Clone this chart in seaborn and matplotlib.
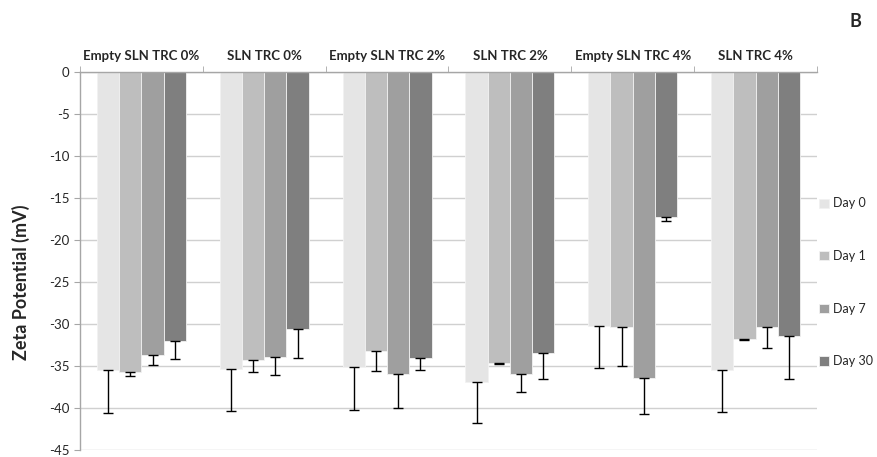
import matplotlib
matplotlib.use("Agg")
import matplotlib.pyplot as plt
import seaborn as sns
import pandas as pd
import numpy as np

# Formulations and sampling days
groups = ["Empty SLN TRC 0%", "SLN TRC 0%", "Empty SLN TRC 2%",
          "SLN TRC 2%", "Empty SLN TRC 4%", "SLN TRC 4%"]
days = ["Day 0", "Day 1", "Day 7", "Day 30"]

# Mean zeta potential (mV) per formulation, one list per day
day0 = [-35.5, -35.3, -35.1, -36.9, -30.2, -35.5]
day1 = [-35.7, -34.3, -33.2, -34.6, -30.4, -31.8]
day7 = [-33.7, -33.9, -36.0, -35.9, -36.4, -30.4]
day30 = [-32.0, -30.6, -34.1, -33.5, -17.3, -31.4]

# Standard deviations (drawn on the negative side only)
sd0 = [5.1, 5.0, 5.1, 4.9, 5.0, 5.0]
sd1 = [0.5, 1.4, 2.4, 0.15, 4.6, 0.15]
sd7 = [1.2, 2.2, 4.0, 2.2, 4.3, 2.4]
sd30 = [2.2, 3.5, 1.4, 3.0, 0.4, 5.1]

colors = ["#E5E5E5", "#BEBEBE", "#9F9F9F", "#7F7F7F"]

means = [day0, day1, day7, day30]
sds = [sd0, sd1, sd7, sd30]
df = pd.DataFrame({
    "group": np.tile(groups, len(days)),
    "day": np.repeat(days, len(groups)),
    "zeta": np.concatenate(means),
})

sns.set_style("white")
plt.rcParams["font.family"] = ["Lato", "DejaVu Sans"]
plt.rcParams["axes.unicode_minus"] = False

fig = plt.figure(figsize=(8.78, 4.57), dpi=100)
ax = fig.add_axes([0.0911, 0.0153, 0.8394, 0.8272])

sns.barplot(data=df, x="group", y="zeta", hue="day", order=groups,
            hue_order=days, palette=colors, width=0.725, errorbar=None,
            saturation=1, edgecolor="#F2F2F2", linewidth=0.6, ax=ax)

# one-sided error bars below each bar
for cont, sd in zip(ax.containers, sds):
    xs = [b.get_x() + b.get_width() / 2 for b in cont]
    ys = [b.get_height() for b in cont]
    ax.errorbar(xs, ys, yerr=[sd, np.zeros(len(sd))], fmt="none",
                ecolor="black", elinewidth=1.0, capsize=3.5, capthick=1.0,
                zorder=5)

ax.set_ylim(-45, 0)
ax.set_xlim(-0.5, len(groups) - 0.5)
ax.set_yticks(np.arange(-45, 1, 5))
ax.yaxis.grid(True, color="#D0D0D0", linewidth=1.0)
ax.set_axisbelow(True)

ax.xaxis.tick_top()
ax.set_xlabel("")
ax.set_xticks(range(len(groups)))
ax.set_xticklabels(groups, fontsize=9.5, fontweight="bold")
ax.set_xticks(np.arange(-0.5, len(groups), 1), minor=True)
ax.tick_params(axis="x", which="major", length=0, pad=7)
ax.tick_params(axis="x", which="minor", length=4, color="#A6A6A6", top=True)
ax.tick_params(axis="y", length=4, color="#A6A6A6", labelsize=9.5, left=True)

for s in ["right", "bottom"]:
    ax.spines[s].set_visible(False)
for s in ["left", "top"]:
    ax.spines[s].set_color("#A6A6A6")
    ax.spines[s].set_linewidth(1.0)

ax.set_ylabel("Zeta Potential (mV)", fontsize=13, fontweight="bold")
ax.yaxis.set_label_coords(-0.068, 0.445)

ax.legend(loc="center left", bbox_to_anchor=(0.933, 0.382),
          bbox_transform=fig.transFigure, frameon=False,
          fontsize=9, labelspacing=3.25, handlelength=0.75, handleheight=0.75,
          handletextpad=0.35, borderaxespad=0, borderpad=0)

fig.text(0.974, 0.952, "B", fontsize=13, fontweight="bold", ha="center",
         va="center")

fig.savefig("out.png", dpi=100)
